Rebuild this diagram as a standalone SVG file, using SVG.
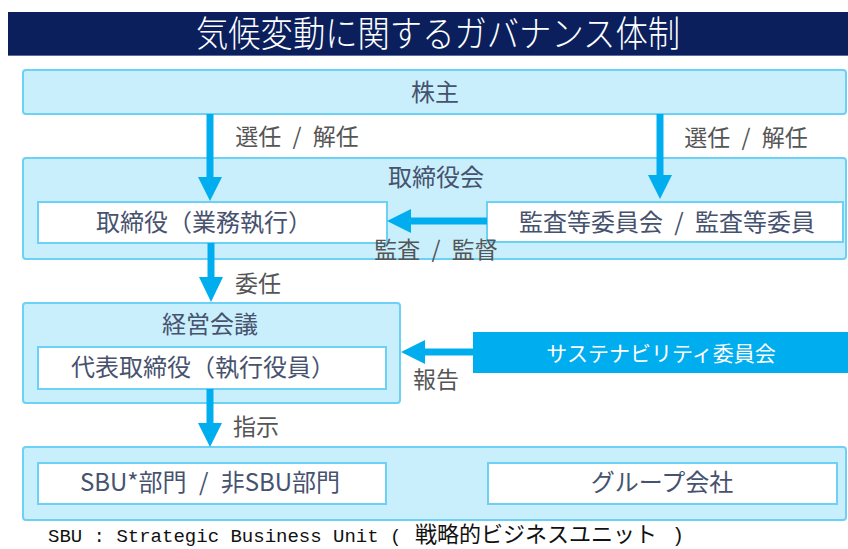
<svg xmlns="http://www.w3.org/2000/svg" width="848" height="549" viewBox="0 0 848 549">
<defs>
<style>
.box{fill:#c9effc;stroke:#6dd0f5;stroke-width:2}
.inner{fill:#ffffff;stroke:#6dd0f5;stroke-width:2}
.t{font-family:"Noto Sans CJK JP","Noto Sans",sans-serif;font-size:24px;fill:#46526e;text-anchor:middle}
.lbl{font-family:"Noto Sans CJK JP","Noto Sans",sans-serif;font-size:23px;fill:#555;text-anchor:middle;word-spacing:6px}
.shaft{stroke:#00aeef;stroke-width:7;fill:none}
.head{fill:#00aeef}
</style>
</defs>
<rect x="0" y="0" width="848" height="549" fill="#ffffff"/>
<g id="title">
<rect x="8" y="12" width="840" height="44" fill="#0b1f5c"/>
<line x1="8" y1="55.5" x2="848" y2="55.5" stroke="#5a6f9e" stroke-width="1"/>
<text x="196" y="47" font-family="'Noto Sans CJK JP','Noto Sans',sans-serif" font-size="36" fill="#ffffff" font-weight="300" textLength="484" lengthAdjust="spacingAndGlyphs">気候変動に関するガバナンス体制</text>
</g>
<g id="shareholders">
<rect class="box" x="23" y="70" width="823" height="44" rx="3"/>
<text class="t" x="435" y="101">株主</text>
</g>
<g id="board">
<rect class="box" x="23" y="158" width="823" height="101" rx="3"/>
<text class="t" x="436" y="186">取締役会</text>
</g>
<g id="directors">
<rect class="inner" x="38" y="202" width="349" height="41"/>
<text class="t" x="204" y="231">取締役（業務執行）</text>
</g>
<g id="audit">
<rect class="inner" x="487" y="202" width="356" height="40"/>
<text class="t" x="667" y="231" style="word-spacing:6px">監査等委員会 / 監査等委員</text>
</g>
<g id="management">
<rect class="box" x="23" y="303" width="377" height="100" rx="3"/>
<text class="t" x="210" y="333">経営会議</text>
</g>
<g id="representative">
<rect class="inner" x="38" y="347" width="348" height="42"/>
<text class="t" x="203" y="376">代表取締役（執行役員）</text>
</g>
<g id="sustainability">
<rect x="473" y="332" width="375" height="41" fill="#00aeef"/>
<text x="661" y="361" font-family="'Noto Sans CJK JP','Noto Sans',sans-serif" font-size="21" fill="#ffffff" text-anchor="middle">サステナビリティ委員会</text>
</g>
<g id="divisions-group">
<rect class="box" x="23" y="447" width="823" height="73" rx="3"/>
</g>
<g id="sbu">
<rect class="inner" x="38" y="463" width="348" height="41"/>
<text class="t" x="210" y="491" style="word-spacing:7px">SBU*部門 / 非SBU部門</text>
</g>
<g id="group-companies">
<rect class="inner" x="488" y="463" width="349" height="41"/>
<text class="t" x="662" y="491">グループ会社</text>
</g>
<g id="connectors">
<line class="shaft" x1="210" y1="114" x2="210" y2="180"/>
<polygon class="head" points="198,177 222,177 210,201"/>
<line class="shaft" x1="660" y1="114" x2="660" y2="178"/>
<polygon class="head" points="648,175 672,175 660,199"/>
<line class="shaft" x1="487" y1="221" x2="408" y2="221"/>
<polygon class="head" points="411,209 411,233 387,221"/>
<line class="shaft" x1="211" y1="243" x2="211" y2="280"/>
<polygon class="head" points="199,277 223,277 211,302"/>
<line class="shaft" x1="473" y1="352" x2="422" y2="352"/>
<polygon class="head" points="425,340 425,364 401,352"/>
<line class="shaft" x1="210" y1="389" x2="210" y2="426"/>
<polygon class="head" points="198,423 222,423 210,447"/>
<text class="lbl" x="297" y="145">選任 / 解任</text>
<text class="lbl" x="746" y="146">選任 / 解任</text>
<text class="lbl" x="436" y="258">監査 / 監督</text>
<text class="lbl" x="258" y="292">委任</text>
<text class="lbl" x="436" y="388">報告</text>
<text class="lbl" x="256" y="435">指示</text>
</g>
<g id="footnote">
<text y="542" fill="#111"><tspan x="48" font-family="'Liberation Mono','DejaVu Sans Mono',monospace" font-size="19">SBU : Strategic Business Unit (</tspan><tspan x="415" font-family="'Noto Sans CJK JP',sans-serif" font-size="22">戦略的ビジネスユニット</tspan><tspan x="672" font-family="'Liberation Mono',monospace" font-size="20">)</tspan></text>
</g>
</svg>
